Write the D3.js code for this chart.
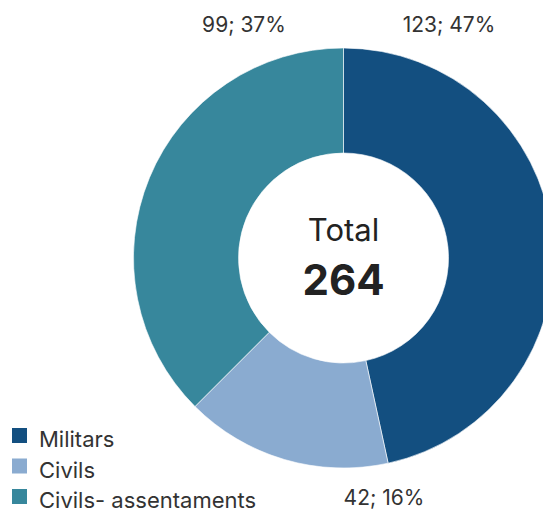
<!DOCTYPE html>
<html>
<head>
<meta charset="utf-8">
<script src="https://cdn.jsdelivr.net/npm/d3@7"></script>
<style>
  body { margin: 0; background: #fff; }
  text { font-family: Inter, "Noto Sans", sans-serif; }
</style>
</head>
<body>
<div id="wrapper"></div>
<script>
const categories = ["Militars", "Civils", "Civils- assentaments"];
const values = [123, 42, 99];
const percents = [47, 16, 37];
const colors = ["#134f80", "#8aabd0", "#37879c"];
// label anchor positions around the donut (outside)
const labelPos = [[449, 32], [384, 505], [244, 32]];

const width = 543, height = 512;
const cx = 343.5, cy = 258;
const outerR = 210, innerR = 105;

const svg = d3.select("#wrapper").append("svg")
    .attr("width", width)
    .attr("height", height);

const total = d3.sum(values);
const pie = d3.pie().sort(null).value(d => d);
const arc = d3.arc().innerRadius(innerR).outerRadius(outerR);

const g = svg.append("g").attr("transform", `translate(${cx},${cy})`);

g.selectAll("path")
    .data(pie(values))
    .join("path")
    .attr("d", arc)
    .attr("fill", (d, i) => colors[i])
    .attr("stroke", "#fff")
    .attr("stroke-width", 0.6);

// labels
svg.selectAll("text.lbl")
    .data(values)
    .join("text")
    .attr("class", "lbl")
    .attr("x", (d, i) => labelPos[i][0])
    .attr("y", (d, i) => labelPos[i][1])
    .attr("text-anchor", "middle")
    .attr("font-size", 21)
    .attr("fill", "#333")
    .text((d, i) => `${d}; ${percents[i]}%`);

// center
g.append("text")
    .attr("y", -17)
    .attr("text-anchor", "middle")
    .attr("font-size", 31)
    .attr("fill", "#222")
    .text("Total");
g.append("text")
    .attr("y", 37)
    .attr("text-anchor", "middle")
    .attr("font-size", 42)
    .attr("font-weight", "bold")
    .attr("fill", "#222")
    .text(total);

// legend
const legend = svg.append("g");
const rows = legend.selectAll("g")
    .data(categories)
    .join("g")
    .attr("transform", (d, i) => `translate(12,${428 + i * 30.5})`);
rows.append("rect")
    .attr("width", 15)
    .attr("height", 15)
    .attr("fill", (d, i) => colors[i]);
rows.append("text")
    .attr("x", 27)
    .attr("y", 19)
    .attr("font-size", 22)
    .attr("fill", "#333")
    .text(d => d);
</script>
</body>
</html>
